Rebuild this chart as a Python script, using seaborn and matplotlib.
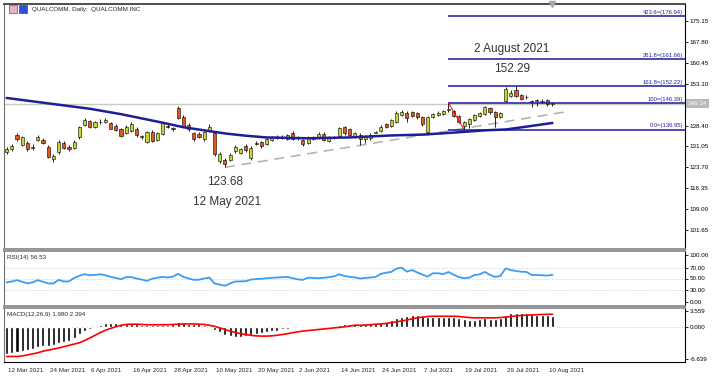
import numpy as np
import pandas as pd
import matplotlib
matplotlib.use('Agg')
import matplotlib.pyplot as plt
import matplotlib.transforms as mtransforms
from matplotlib import font_manager
from matplotlib.patches import Rectangle
import seaborn as sns

# daily candles, 12 Mar 2021 .. 11 Aug 2021
opens = [129.0, 130.0, 134.9, 131.6, 132.4, 130.8, 133.4, 133.3, 131.0, 126.6,
         128.9, 132.4, 130.9, 130.6, 134.2, 138.7, 139.9, 137.8, 139.6, 139.6,
         139.2, 138.3, 137.2, 135.9, 136.5, 137.2, 134.6, 132.6, 136.2, 133.3,
         135.4, 138.2, 137.4, 144.6, 141.4, 138.6, 135.8, 135.4, 133.6, 136.3,
         135.6, 125.8, 126.2, 126.2, 129.3, 128.8, 131.3, 126.8, 132.3, 132.6,
         132.0, 133.2, 134.1, 134.3, 133.6, 135.6, 134.0, 133.2, 132.4, 133.8,
         134.2, 135.4, 133.0, 134.3, 134.6, 137.8, 137.0, 134.4, 135.0, 133.5,
         134.0, 135.9, 136.3, 139.0, 138.4, 139.5, 142.0, 142.8, 143.2, 142.8,
         141.4, 136.0, 141.3, 142.2, 142.6, 143.8, 143.4, 141.8, 138.4, 138.8,
         140.4, 141.8, 142.4, 144.4, 143.0, 141.4, 147.0, 148.8, 150.8, 149.2,
         148.4, 147.0, 147.1, 146.8, 147.4, 146.1]
highs = [131.0, 131.8, 135.6, 134.6, 133.0, 132.0, 135.0, 134.0, 131.6, 128.2,
         133.3, 133.0, 131.5, 133.2, 138.4, 141.0, 140.4, 140.0, 140.6, 141.0,
         139.8, 138.8, 137.6, 138.5, 139.5, 137.8, 135.2, 136.6, 136.8, 136.0,
         139.8, 139.0, 137.9, 145.4, 142.0, 139.2, 136.2, 136.0, 136.4, 138.8,
         136.2, 128.9, 127.0, 128.6, 131.6, 130.6, 131.8, 131.2, 133.0, 133.0,
         134.0, 134.8, 135.0, 134.9, 135.5, 136.4, 134.6, 133.8, 134.6, 134.6,
         136.0, 136.0, 134.8, 134.8, 138.0, 138.2, 137.4, 136.0, 135.6, 135.0,
         135.6, 136.6, 138.5, 139.4, 140.6, 143.4, 143.8, 143.4, 143.6, 143.2,
         141.8, 141.8, 142.8, 143.4, 144.0, 146.39, 143.8, 142.2, 140.0, 141.2,
         142.6, 143.2, 145.4, 144.8, 143.4, 143.2, 151.8, 150.8, 152.29, 149.6,
         149.0, 147.4, 147.7, 147.6, 147.9, 146.4]
lows = [128.2, 129.3, 133.0, 131.2, 129.5, 129.8, 133.0, 131.8, 126.8, 125.6,
        128.5, 130.0, 129.4, 130.2, 133.8, 138.3, 137.4, 137.4, 139.0, 139.2,
        137.0, 136.3, 134.2, 135.5, 136.0, 134.5, 133.6, 132.2, 132.6, 133.0,
        135.0, 137.5, 136.4, 140.8, 137.8, 136.6, 133.0, 134.0, 133.0, 136.0,
        127.8, 125.2, 123.68, 125.8, 128.8, 128.2, 129.0, 126.4, 131.4, 130.6,
        131.6, 132.8, 133.5, 133.7, 133.2, 133.2, 133.3, 131.3, 132.0, 133.2,
        133.8, 133.0, 132.6, 133.6, 134.2, 135.2, 134.5, 134.0, 131.7, 132.4,
        133.4, 135.6, 136.0, 137.4, 138.0, 139.2, 141.6, 139.6, 141.4, 140.8,
        138.2, 135.2, 141.0, 141.8, 142.2, 143.2, 141.4, 139.2, 136.95, 137.6,
        140.0, 141.4, 142.0, 142.6, 138.0, 141.0, 146.6, 148.4, 148.4, 147.4,
        147.8, 144.8, 145.2, 146.2, 145.4, 145.2]
closes = [130.2, 131.2, 133.5, 134.2, 130.0, 130.6, 134.3, 132.4, 127.2, 127.5,
          132.7, 130.4, 130.0, 132.6, 138.0, 140.4, 137.8, 139.5, 139.8, 140.5,
          137.3, 136.8, 134.6, 138.0, 139.0, 135.0, 134.3, 136.0, 133.0, 135.6,
          139.2, 138.0, 137.2, 141.2, 138.2, 137.0, 133.6, 134.4, 136.0, 138.0,
          128.2, 128.4, 124.8, 127.9, 131.0, 130.0, 129.6, 130.6, 132.0, 131.2,
          133.6, 134.2, 134.3, 134.2, 134.9, 133.8, 134.2, 131.8, 134.0, 134.0,
          135.4, 133.4, 134.4, 134.2, 137.6, 135.6, 135.0, 135.6, 133.8, 134.6,
          135.2, 136.1, 138.0, 137.8, 140.2, 142.9, 143.3, 141.2, 141.8, 141.3,
          138.8, 141.4, 142.4, 142.9, 143.6, 144.2, 141.8, 139.8, 139.6, 140.8,
          142.2, 142.8, 145.0, 143.0, 141.4, 142.8, 151.4, 150.0, 148.8, 147.9,
          148.6, 146.8, 147.3, 147.0, 145.8, 146.14]

# moving average, read at a few bars
ma_idx = [0, 8, 16, 22, 26, 30, 34, 38, 42, 46, 50, 58, 66, 74, 80, 86, 92, 96, 100, 105]
ma_vals = [148.1, 146.2, 144.3, 142.4, 140.9, 139.4, 137.8, 136.7, 135.6, 134.8,
           134.2, 133.9, 134.2, 134.9, 135.2, 135.9, 136.7, 137.0, 138.0, 139.3]

rsi = [43, 44.5, 47, 44, 41, 43, 47, 44, 41, 41,
       47.5, 44.6, 44.8, 51, 55, 57.7, 55.9, 56.5, 57.7, 56,
       53, 51, 48.8, 52.5, 52.5, 50, 48, 45.8, 49.5, 51.5,
       53, 51.8, 53.5, 58.5, 53, 50, 47.5, 47.8, 50, 51.8,
       41, 39, 36.8, 41, 44.6, 44.8, 45, 48, 49, 49.5,
       50.5, 51.2, 51.8, 52.3, 52.9, 50.5, 48.5, 47.5, 51.5, 51,
       50.5, 51.2, 52.5, 54, 57.7, 54.5, 53, 52, 50, 51,
       51.8, 52.9, 58.5, 60.5, 62, 68, 69.6, 62.5, 65.4, 61,
       57, 53.6, 59.5, 59.5, 58, 61.8, 57, 52.5, 50.5, 51.5,
       56.4, 57.5, 62, 56.4, 52.9, 54.8, 68.4, 65.4, 63.5, 62.3,
       62, 56.5, 56.2, 55.9, 55.3, 56.53]

macd_main = [-5.2, -5.0, -4.7, -4.6, -4.4, -4.2, -3.9, -3.7, -3.6, -3.4,
             -3.1, -2.9, -2.6, -2.1, -1.3, -0.8, -0.4, -0.2, 0.35, 0.7,
             0.8, 0.75, 0.6, 0.5, 0.55, 0.45, 0.4, 0.3, 0.3, 0.35,
             0.4, 0.4, 0.5, 0.85, 0.8, 0.6, 0.5, 0.45, 0.3, 0.1,
             -0.6, -1.0, -1.5, -1.8, -1.9, -1.9, -1.8, -1.6, -1.4, -1.2,
             -1.0, -0.85, -0.7, -0.5, -0.35, -0.2, -0.25, -0.3, -0.15, -0.1,
             -0.05, 0.05, 0.15, 0.2, 0.35, 0.5, 0.55, 0.5, 0.45, 0.45,
             0.5, 0.6, 0.75, 1.0, 1.35, 1.7, 1.95, 2.0, 2.2, 2.2,
             2.1, 1.9, 1.9, 1.9, 1.9, 1.95, 1.9, 1.7, 1.45, 1.25,
             1.35, 1.5, 1.6, 1.55, 1.55, 1.65, 2.2, 2.55, 2.6, 2.7,
             2.55, 2.4, 2.25, 2.2, 2.15, 1.98]
macd_signal = [-5.6, -5.6, -5.6, -5.5, -5.3, -5.1, -4.9, -4.6, -4.4, -4.2,
               -4.0, -3.75, -3.5, -3.25, -3.0, -2.6, -2.1, -1.6, -1.1, -0.65,
               -0.3, 0.0, 0.3, 0.45, 0.5, 0.5, 0.45, 0.4, 0.4, 0.4,
               0.4, 0.4, 0.45, 0.5, 0.55, 0.55, 0.55, 0.5, 0.45, 0.3,
               0.1, -0.2, -0.5, -0.8, -1.05, -1.3, -1.45, -1.6, -1.7, -1.75,
               -1.75, -1.7, -1.6, -1.45, -1.3, -1.1, -0.95, -0.8, -0.7, -0.6,
               -0.5, -0.4, -0.3, -0.2, -0.1, 0.0, 0.15, 0.3, 0.3, 0.35,
               0.4, 0.5, 0.55, 0.65, 0.8, 0.95, 1.1, 1.3, 1.5, 1.7,
               1.85, 1.95, 2.0, 2.0, 2.0, 2.0, 2.0, 1.95, 1.85, 1.75,
               1.7, 1.7, 1.7, 1.7, 1.7, 1.75, 1.85, 1.95, 2.05, 2.15,
               2.2, 2.25, 2.3, 2.33, 2.36, 2.394]

fib_levels = ['0.0', '100', '161.8', '261.8', '423.6']
fib_prices = [136.95, 146.39, 152.22, 161.66, 176.94]
fib_start = 85

trend_start = (42, 123.68)
trend_end = (107.5, 143.2)

price_ticks = [175.15, 167.80, 160.45, 153.10, 145.75, 138.40, 131.05, 123.70, 116.35, 109.00, 101.65]
date_labels = ['12 Mar 2021', '24 Mar 2021', '6 Apr 2021', '16 Apr 2021', '28 Apr 2021',
               '10 May 2021', '20 May 2021', '2 Jun 2021', '14 Jun 2021', '24 Jun 2021',
               '7 Jul 2021', '19 Jul 2021', '29 Jul 2021', '10 Aug 2021']
last_price = 146.14

sns.set_style('white')
plt.rcParams['font.family'] = ['Liberation Sans', 'DejaVu Sans']

# narrow face for the small axis texts, if there is one
try:
    font_manager.findfont('Liberation Sans Narrow', fallback_to_default=False)
    small_font = ['Liberation Sans Narrow', 'Liberation Sans', 'DejaVu Sans']
    small_size = 5.2
except Exception:
    small_font = ['Liberation Sans', 'DejaVu Sans']
    small_size = 4.5

df = pd.DataFrame({'o': opens, 'h': highs, 'l': lows, 'c': closes})
df['i'] = np.arange(len(df))

W, H = 714, 380
fig = plt.figure(figsize=(W / 100, H / 100), dpi=100)
left, width = 4 / W, 681 / W
ax = fig.add_axes([left, (H - 249) / H, width, 245 / H])
ax_rsi = fig.add_axes([left, (H - 306) / H, width, 55 / H])
ax_macd = fig.add_axes([left, (H - 362) / H, width, 54 / H])

xlim = (-0.5, 130.5)
for a in (ax, ax_rsi, ax_macd):
    a.set_xlim(*xlim)
    a.set_facecolor('white')
    a.yaxis.tick_right()
    a.tick_params(axis='y', which='both', direction='out', length=2.5, width=0.6,
                  labelsize=small_size, pad=1, colors='black')
    a.tick_params(axis='x', length=0)
    a.spines['left'].set_color('#707070')
    a.spines['right'].set_color('black')
    a.spines['right'].set_linewidth(0.8)
    a.spines['top'].set_color('#8c8c8c')
    a.spines['bottom'].set_color('#8c8c8c')
    a.spines['top'].set_linewidth(1.3)
    a.spines['bottom'].set_linewidth(1.3)
ax.spines['top'].set_color('#404040')
ax_macd.spines['bottom'].set_color('black')
ax_macd.spines['bottom'].set_linewidth(0.8)
ax.set_xticks([])
ax_rsi.set_xticks([])

# ---- main price panel
ax.set_ylim(94.9, 181.2)
ax.axhline(last_price, color='#c8c8c8', lw=1, zorder=1)

bull = df['c'] >= df['o']
ax.vlines(df['i'], df['l'], df['h'], color='black', lw=0.6, zorder=3)
body = (df['c'] - df['o']).abs().clip(lower=0.12)
bottom = df[['o', 'c']].min(axis=1)
ax.bar(df['i'], body, bottom=bottom, width=0.6,
       color=np.where(bull, '#c4d431', '#e4571c'), edgecolor='black', lw=0.4, zorder=4)

sns.lineplot(x=ma_idx, y=ma_vals, ax=ax, color='#1e1e96', lw=1.8, zorder=5)

ax.plot([trend_start[0], trend_end[0]], [trend_start[1], trend_end[1]],
        color='#b4b4b4', lw=1.2, dashes=(6, 4), zorder=2)

hi_i = int(np.argmax(highs))
lo_i = int(np.argmin(lows))
fib_lo_i = fib_start + int(np.argmin(lows[fib_start:fib_start + 5]))
ax.plot([fib_start, fib_lo_i], [highs[fib_start], lows[fib_lo_i]], color='red', lw=0.7, zorder=6)
ax.hlines(fib_prices, fib_start, xlim[1], color='#1a1a9c', lw=1.1, zorder=5)
for lev, p in zip(fib_levels, fib_prices):
    ax.text(130.1, p + 0.4, f'{lev}=({p:.2f})', ha='right', va='bottom',
            fontsize=small_size - 0.3, color='#2020a0', family=small_font)

txt = dict(textcoords='offset pixels', ha='center', va='center', fontsize=8.5, color='#333333')
ax.annotate(f'{highs[hi_i]:.2f}', (hi_i, highs[hi_i]), xytext=(-4, 17), **txt)
ax.annotate('2 August 2021', (hi_i, highs[hi_i]), xytext=(-4, 37), **txt)
ax.annotate(f'{lows[lo_i]:.2f}', (lo_i, lows[lo_i]), xytext=(0, -15), **txt)
ax.annotate('12 May 2021', (lo_i, lows[lo_i]), xytext=(2, -35), **txt)

ax.set_yticks(price_ticks)
# the 145.75 label sits under the last-price box, as on the terminal
ax.set_yticklabels(['' if v == 145.75 else f'{v:.2f}' for v in price_ticks])
trans = mtransforms.blended_transform_factory(ax.transAxes, ax.transData)
ax.text(1.004, last_price, f'{last_price:.2f}', transform=trans, fontsize=small_size,
        color='white', va='center', ha='left', zorder=10, clip_on=False, family=small_font,
        bbox=dict(boxstyle='square,pad=0.35', fc='#b9b9b9', ec='none'))
ax.plot(105, 181.2, marker='v', color='#a8a8a8', ms=4, clip_on=False, zorder=10)

fig.text(32 / W, 1 - 9 / H, 'QUALCOMM, Daily:  QUALCOMM INC', fontsize=small_size,
         va='center', family=small_font)
fig.patches.append(Rectangle((9 / W, 1 - 13 / H), 8 / W, 8 / H, transform=fig.transFigure,
                             fc='#e8b4c4', ec='#5070c0', lw=0.6))
fig.patches.append(Rectangle((19 / W, 1 - 13 / H), 8 / W, 8 / H, transform=fig.transFigure,
                             fc='#3050d0', ec='#c03030', lw=0.6))

# ---- RSI panel
ax_rsi.set_ylim(0, 100)
for lv in (70, 50, 30):
    ax_rsi.axhline(lv, color='#bdbdbd', lw=0.6, dashes=(1, 2))
sns.lineplot(x=np.arange(len(rsi)), y=rsi, ax=ax_rsi, color='#3d9cf0', lw=1.3)
ax_rsi.set_yticks([92.7, 70, 50, 30, 7.3])
ax_rsi.set_yticklabels(['100.00', '70.00', '50.00', '30.00', '0.00'])
ax_rsi.text(0.004, 0.93, f'RSI(14) {rsi[-1]:.2f}', transform=ax_rsi.transAxes,
            fontsize=small_size, va='top', family=small_font)

# ---- MACD panel
ax_macd.set_ylim(-6.639, 3.559)
ax_macd.axhline(0, color='#bdbdbd', lw=0.6, dashes=(1, 2))
ax_macd.bar(np.arange(len(macd_main)), macd_main, width=0.58, color='black', zorder=2)
sns.lineplot(x=np.arange(len(macd_signal)), y=macd_signal, ax=ax_macd, color='red', lw=1.2, zorder=3)
ax_macd.set_yticks([2.99, 0, -6.07])
ax_macd.set_yticklabels(['3.559', '0.000', '-6.639'])
ax_macd.text(0.004, 0.93, f'MACD(12,26,9) {macd_main[-1]:.3f} {macd_signal[-1]:.3f}',
             transform=ax_macd.transAxes, fontsize=small_size, va='top', family=small_font)

ax_macd.set_xticks(np.arange(len(date_labels)) * 8)
ax_macd.set_xticklabels(date_labels)
ax_macd.tick_params(axis='x', direction='out', length=3, width=0.6, labelsize=small_size, pad=1)
offset = mtransforms.ScaledTranslation(1 / 72, 0, fig.dpi_scale_trans)
for lab in ax_macd.get_xticklabels():
    lab.set_ha('left')
    lab.set_transform(lab.get_transform() + offset)

for a in (ax, ax_rsi, ax_macd):
    a.set_xlabel('')
    a.set_ylabel('')
    for lab in a.get_yticklabels():
        lab.set_family(small_font)
for lab in ax_macd.get_xticklabels():
    lab.set_family(small_font)

fig.savefig('out.png', dpi=100)
